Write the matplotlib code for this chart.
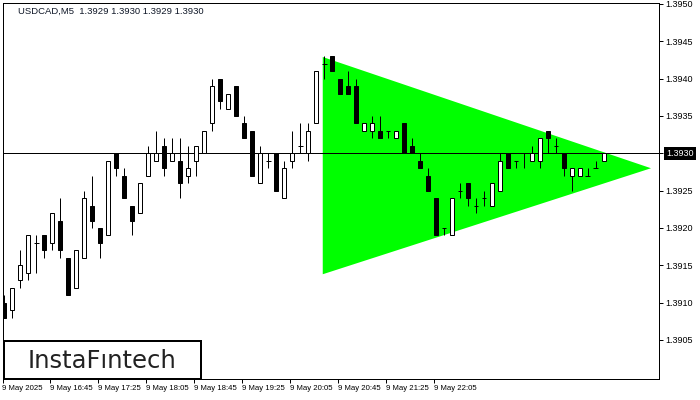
import matplotlib
matplotlib.use('Agg')
import matplotlib.pyplot as plt
from matplotlib.patches import Rectangle, Polygon
from matplotlib import font_manager
import matplotlib.transforms as mtransforms

# ---------------- data ----------------
opens = [1.3910, 1.3909, 1.3913, 1.3914, 1.3918, 1.3919, 1.3918, 1.3921, 1.3916, 1.3912,
         1.3916, 1.3923, 1.3920, 1.3919, 1.3930, 1.3927, 1.3923, 1.3922, 1.3927, 1.3929,
         1.3931, 1.3929, 1.3929, 1.3927, 1.3929, 1.3930, 1.3934, 1.3940, 1.3936, 1.3939,
         1.3934, 1.3933, 1.3926, 1.3929, 1.3930, 1.3924, 1.3929, 1.3931, 1.3930, 1.3934,
         1.3942, 1.3943, 1.3940, 1.3939, 1.3939, 1.3933, 1.3933, 1.3933, 1.3933, 1.3932,
         1.3934, 1.3931, 1.3929, 1.3927, 1.3924, 1.3920, 1.3919, 1.3925, 1.3926, 1.3923,
         1.3924, 1.3923, 1.3925, 1.3930, 1.3929, 1.3930, 1.3929, 1.3929, 1.3933, 1.3931,
         1.3930, 1.3927, 1.3927, 1.3927, 1.3928, 1.3929]
highs = [1.3911, 1.3912, 1.3917, 1.3919, 1.3919, 1.3919, 1.3922, 1.3924, 1.3916, 1.3917,
         1.3925, 1.3927, 1.3920, 1.3929, 1.3930, 1.3928, 1.3923, 1.3926, 1.3931, 1.3933,
         1.3932, 1.3932, 1.3932, 1.3931, 1.3931, 1.3933, 1.3940, 1.3940, 1.3938, 1.3939,
         1.3935, 1.3933, 1.3931, 1.3930, 1.3930, 1.3929, 1.3933, 1.3934, 1.3934, 1.3941,
         1.3943, 1.3943, 1.3940, 1.3941, 1.3940, 1.3934, 1.3935, 1.3935, 1.3933, 1.3933,
         1.3934, 1.3932, 1.3930, 1.3928, 1.3924, 1.3920, 1.3924, 1.3926, 1.3926, 1.3924,
         1.3925, 1.3926, 1.3930, 1.3930, 1.3929, 1.3930, 1.3931, 1.3932, 1.3933, 1.3932,
         1.3930, 1.3928, 1.3928, 1.3928, 1.3929, 1.3930]
lows = [1.3908, 1.3908, 1.3912, 1.3913, 1.3914, 1.3916, 1.3917, 1.3916, 1.3911, 1.3912,
        1.3916, 1.3920, 1.3916, 1.3919, 1.3927, 1.3924, 1.3919, 1.3922, 1.3927, 1.3929,
        1.3927, 1.3929, 1.3924, 1.3926, 1.3927, 1.3930, 1.3933, 1.3936, 1.3936, 1.3935,
        1.3932, 1.3927, 1.3926, 1.3928, 1.3925, 1.3924, 1.3928, 1.3930, 1.3929, 1.3934,
        1.3940, 1.3941, 1.3938, 1.3938, 1.3934, 1.3933, 1.3932, 1.3932, 1.3932, 1.3932,
        1.3930, 1.3930, 1.3928, 1.3925, 1.3919, 1.3919, 1.3919, 1.3924, 1.3923, 1.3922,
        1.3923, 1.3923, 1.3925, 1.3928, 1.3928, 1.3928, 1.3929, 1.3928, 1.3930, 1.3930,
        1.3927, 1.3925, 1.3927, 1.3927, 1.3928, 1.3929]
closes = [1.3908, 1.3912, 1.3915, 1.3919, 1.3918, 1.3917, 1.3922, 1.3917, 1.3911, 1.3917,
          1.3924, 1.3921, 1.3918, 1.3929, 1.3928, 1.3924, 1.3921, 1.3926, 1.3930, 1.3930,
          1.3928, 1.3930, 1.3926, 1.3928, 1.3931, 1.3933, 1.3939, 1.3937, 1.3938, 1.3935,
          1.3932, 1.3927, 1.3930, 1.3929, 1.3925, 1.3928, 1.3930, 1.3931, 1.3933, 1.3941,
          1.3942, 1.3941, 1.3938, 1.3938, 1.3934, 1.3934, 1.3934, 1.3932, 1.3933, 1.3933,
          1.3930, 1.3930, 1.3928, 1.3925, 1.3919, 1.3920, 1.3924, 1.3925, 1.3924, 1.3923,
          1.3924, 1.3926, 1.3929, 1.3928, 1.3929, 1.3930, 1.3930, 1.3932, 1.3932, 1.3931,
          1.3928, 1.3928, 1.3928, 1.3927, 1.3928, 1.3930]

time_labels = ['9 May 2025', '9 May 16:45', '9 May 17:25', '9 May 18:05', '9 May 18:45',
               '9 May 19:25', '9 May 20:05', '9 May 20:45', '9 May 21:25', '9 May 22:05']
price_ticks = [1.3905, 1.3910, 1.3915, 1.3920, 1.3925, 1.3930, 1.3935, 1.3940, 1.3945, 1.3950]
last_price = 1.3930
title_text = 'USDCAD,M5  1.3929 1.3930 1.3929 1.3930'
logo_text = 'InstaF\u0131ntech'

# symmetric triangle pattern (bar index, price)
tri_x = [39.84, 39.84, 80.88]
tri_y = [1.39429, 1.39138, 1.39280]

# ---------------- figure ----------------
W, H = 700, 400
PX = 0.72  # one pixel in points at 100 dpi

names = {f.name for f in font_manager.fontManager.ttflist}
narrow_font = 'Liberation Sans Narrow' if 'Liberation Sans Narrow' in names else 'Liberation Sans'
time_size = 6.4 if narrow_font == 'Liberation Sans Narrow' else 5.6

fig = plt.figure(figsize=(W / 100, H / 100), dpi=100)
fig.patch.set_facecolor('white')
ax = fig.add_axes([2.5 / W, 21 / H, 656.5 / W, 376.5 / H])
ax.set_xlim(-0.19, 81.88)
ax.set_ylim(1.389977, 1.395020)
ax.set_facecolor('white')
for sp in ax.spines.values():
    sp.set_linewidth(PX)
    sp.set_color('black')

# triangle
ax.add_patch(Polygon(list(zip(tri_x, tri_y)), closed=True, facecolor='#00ff00',
                     edgecolor='none', zorder=1))

# current price line
ax.axhline(last_price, color='black', lw=PX, zorder=2)

# candles
bw = 0.56
for i, (o, h, l, c) in enumerate(zip(opens, highs, lows, closes)):
    ax.vlines(i, l, h, color='black', lw=PX, zorder=3)
    if abs(c - o) < 1e-9:
        ax.hlines(o, i - bw / 2 - 0.03, i + bw / 2 + 0.03, color='black', lw=PX, zorder=4)
    else:
        fc = 'white' if c > o else 'black'
        ax.add_patch(Rectangle((i - bw / 2, min(o, c)), bw, abs(c - o), facecolor=fc,
                               edgecolor='black', lw=PX, zorder=4))

# y axis on right
ax.yaxis.tick_right()
ax.set_yticks(price_ticks)
ax.set_yticklabels(['' if abs(p - last_price) < 1e-9 else f'{p:.4f}' for p in price_ticks],
                   fontsize=6.5, family='Liberation Sans', color='black')
ax.tick_params(axis='y', length=4 * PX, width=PX, pad=2, colors='black')

# highlighted current price label
blend = mtransforms.blended_transform_factory(ax.transAxes, ax.transData)
ax.text(1 + 7.5 / 656.5, last_price, f'{last_price:.4f}', transform=blend, ha='left',
        va='center', fontsize=6.5, family='Liberation Sans', color='white',
        bbox=dict(facecolor='black', edgecolor='none', boxstyle='square,pad=0.25'),
        clip_on=False, zorder=10)

# x axis
xt = [6 * k - 0.2 for k in range(len(time_labels))]
ax.set_xticks(xt)
ax.set_xticklabels(time_labels, fontsize=time_size, family=narrow_font, color='black')
for lab in ax.get_xticklabels():
    lab.set_ha('left')
ax.tick_params(axis='x', length=4 * PX, width=PX, pad=1.8, colors='black')

# title
fig.text(18 / W, 1 - 11 / H, title_text, ha='left', va='center', fontsize=6.8,
         family='Liberation Sans', color='#101828')

# logo box
fig.patches.append(Rectangle((3.5 / W, 1 - 379 / H), 197.5 / W, 38 / H,
                             transform=fig.transFigure, facecolor='white',
                             edgecolor='black', lw=2 * PX, zorder=5))
fig.text(102 / W, 1 - 368 / H, logo_text, ha='center', va='baseline', fontsize=17.5,
         family='DejaVu Sans', color='#222222', zorder=6)

fig.savefig('out.png', dpi=100, facecolor='white')
